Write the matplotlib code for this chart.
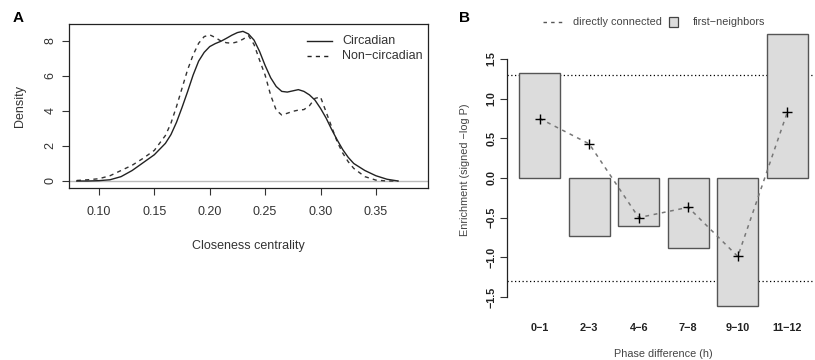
import numpy as np
import matplotlib.pyplot as plt
from matplotlib.lines import Line2D
from matplotlib.patches import Rectangle

plt.rcParams['font.family'] = ['Liberation Sans', 'DejaVu Sans']

# Panel A: density of closeness centrality
closeness = [0.08, 0.09, 0.10, 0.11, 0.12, 0.13, 0.14, 0.15, 0.16, 0.165,
             0.17, 0.175, 0.18, 0.185, 0.19, 0.195, 0.20, 0.205, 0.21, 0.215,
             0.22, 0.225, 0.23, 0.235, 0.24, 0.245, 0.25, 0.255, 0.26, 0.265,
             0.27, 0.275, 0.28, 0.285, 0.29, 0.295, 0.30, 0.305, 0.31, 0.315,
             0.32, 0.325, 0.33, 0.34, 0.35, 0.36, 0.37]
circadian = [0.0, 0.0, 0.02, 0.07, 0.25, 0.6, 1.05, 1.5, 2.15, 2.65,
             3.35, 4.2, 5.1, 6.05, 6.85, 7.35, 7.68, 7.85, 7.98, 8.15,
             8.33, 8.48, 8.55, 8.4, 8.05, 7.4, 6.6, 5.9, 5.4, 5.12,
             5.08, 5.15, 5.22, 5.12, 4.92, 4.62, 4.15, 3.6, 2.95, 2.35,
             1.8, 1.35, 1.0, 0.6, 0.3, 0.1, 0.0]
non_circadian = [0.03, 0.07, 0.13, 0.3, 0.6, 0.9, 1.3, 1.75, 2.6, 3.3,
                 4.25, 5.3, 6.35, 7.2, 7.87, 8.25, 8.35, 8.2, 8.0, 7.9,
                 7.87, 7.95, 8.1, 8.3, 7.8, 6.9, 6.05, 4.9, 4.05, 3.77,
                 3.87, 3.98, 4.05, 4.08, 4.3, 4.72, 4.8, 3.95, 3.1, 2.25,
                 1.6, 1.1, 0.72, 0.25, 0.05, 0.0, 0.0]
xticks_a = [0.10, 0.15, 0.20, 0.25, 0.30, 0.35]
yticks_a = [0, 2, 4, 6, 8]

# Panel B: enrichment by phase difference
phase = ['0\u22121', '2\u22123', '4\u22126', '7\u22128', '9\u221210', '11\u221212']
first_neighbors = [1.32, -0.73, -0.60, -0.88, -1.61, 1.82]
directly = [0.75, 0.43, -0.50, -0.37, -0.99, 0.83]
threshold = 1.301
yticks_b = [-1.5, -1.0, -0.5, 0.0, 0.5, 1.0, 1.5]

W, H = 815, 360
fig = plt.figure(figsize=(W / 100, H / 100), dpi=100)


def px(x, y):
    return x / W, 1 - y / H


# ---- panel A
axA = fig.add_axes([69 / W, 1 - 188 / H, 359 / W, 164 / H])
axA.axhline(0, color='#bbbbbb', lw=1.0, zorder=1)
axA.plot(closeness, circadian, color='#222222', lw=1.0, zorder=3)
axA.plot(closeness, non_circadian, color='#333333', lw=1.0,
         dashes=(3, 3), zorder=2)
axA.set_xlim(0.073, 0.397)
axA.set_ylim(-0.4, 8.97)
axA.set_xticks(xticks_a)
axA.set_xticklabels(['%.2f' % v for v in xticks_a])
axA.set_yticks(yticks_a)
axA.set_yticklabels([str(v) for v in yticks_a], rotation=90, va='center')
axA.tick_params(axis='both', length=5, width=0.8, color='#333333',
                labelsize=9, labelcolor='#333333')
axA.tick_params(axis='x', pad=8)
axA.tick_params(axis='y', pad=4)
for s in axA.spines.values():
    s.set_linewidth(0.9)
    s.set_color('#222222')
axA.set_xlabel('Closeness centrality', fontsize=9, color='#333333', labelpad=16)
axA.set_ylabel('Density', fontsize=9, color='#333333', labelpad=13)

# legend A
for yy, ls in [(41, '-'), (56, '--')]:
    x0, y0 = px(307, yy)
    x1, _ = px(332, yy)
    l = Line2D([x0, x1], [y0, y0], transform=fig.transFigure,
               color='#222222', lw=1.0, linestyle=ls)
    if ls == '--':
        l.set_dashes((3, 3))
    fig.add_artist(l)
fig.text(*px(342, 41), 'Circadian', fontsize=9, va='center', color='#333333')
fig.text(*px(342, 56), 'Non\u2212circadian', fontsize=9, va='center',
         color='#333333')

# ---- panel B
axB = fig.add_axes([507.5 / W, 1 - 316.5 / H, 312 / W, 293.7 / H])
centers = 0.7 + 1.2 * np.arange(len(phase))
axB.axhline(threshold, color='black', lw=0.9, linestyle=(0, (1, 2)), zorder=1)
axB.axhline(-threshold, color='black', lw=0.9, linestyle=(0, (1, 2)), zorder=1)
axB.bar(centers, first_neighbors, width=1.0, color='#dcdcdc',
        edgecolor='#555555', linewidth=1.0, zorder=2)
axB.plot(centers, directly, color='#777777', lw=1.1, dashes=(2.5, 3),
         zorder=3)
axB.plot(centers, directly, linestyle='none', marker='+', color='black',
         markersize=7, markeredgewidth=1.0, zorder=4)
axB.set_xlim(-0.08, 7.48)
axB.set_ylim(-1.747, 1.957)
for k in ['top', 'right', 'bottom']:
    axB.spines[k].set_visible(False)
axB.spines['left'].set_bounds(-1.5, 1.5)
axB.spines['left'].set_linewidth(0.9)
axB.spines['left'].set_color('#222222')
axB.set_yticks(yticks_b)
axB.set_yticklabels([('%.1f' % v).replace('-', '\u2212') for v in yticks_b],
                    rotation=90, va='center', fontweight='bold')
axB.set_xticks(centers)
axB.set_xticklabels(phase, fontweight='bold')
axB.tick_params(axis='y', length=5, width=0.8, color='#333333',
                labelsize=7.8, labelcolor='#222222', pad=3)
axB.tick_params(axis='x', length=0, labelsize=7.8, labelcolor='#222222',
                pad=5)
axB.set_xlabel('Phase difference (h)', fontsize=7.8, color='#444444',
               labelpad=11)
axB.set_ylabel('Enrichment (signed \u2212log P)', fontsize=7.8,
               color='#444444', labelpad=12)

# legend B
x0, y0 = px(543, 22)
x1, _ = px(564, 22)
fig.add_artist(Line2D([x0, x1], [y0, y0], transform=fig.transFigure,
                      color='#555555', lw=1.0, dashes=(2.5, 3)))
fig.text(*px(573, 22), 'directly connected', fontsize=7.8, va='center',
         color='#444444')
rx, ry = px(669, 26.5)
fig.add_artist(Rectangle((rx, ry), 9 / W, 9 / H, transform=fig.transFigure,
                         facecolor='#dcdcdc', edgecolor='#444444', lw=0.9))
fig.text(*px(693, 22), 'first\u2212neighbors', fontsize=7.8, va='center',
         color='#444444')

# panel letters
fig.text(*px(13, 18), 'A', fontsize=11, fontweight='bold', va='center')
fig.text(*px(459, 18), 'B', fontsize=11, fontweight='bold', va='center')

fig.savefig('out.png', dpi=100)
